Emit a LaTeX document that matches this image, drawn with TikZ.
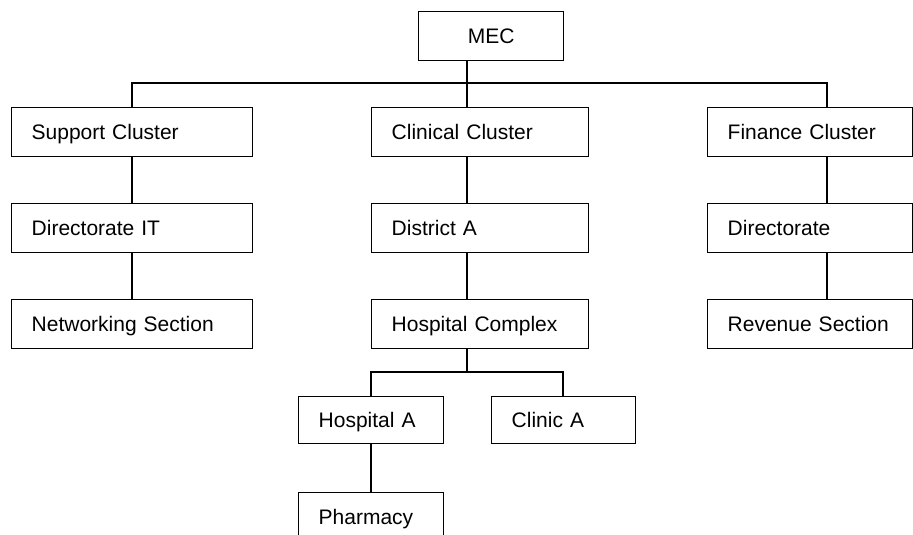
\documentclass[tikz,border=0pt]{standalone}
\usepackage{fontspec}
\setmainfont{Liberation Sans}
\begin{document}
\begin{tikzpicture}[x=1pt,y=-1pt,
  line width=1.4pt,
  box/.style={draw=black, rectangle, anchor=north west, inner xsep=20pt, inner ysep=0pt,
    minimum height=49pt, text height=16pt, text depth=2pt, font=\fontsize{21}{25}\selectfont},
  conn/.style={draw=black, line width=1.4pt}]
\useasboundingbox (0,0) rectangle (913,535);
\clip (0,0) rectangle (913,535);
\fill[white] (0,0) rectangle (913,535);
% boxes
\node[box, inner xsep=0pt, minimum width=145pt] (mec) at (418,11) {MEC};
\node[box, text width=201pt] (sup) at (11,107) {Support Cluster};
\node[box, text width=201pt] (dit) at (11,203) {Directorate IT};
\node[box, text width=201pt] (net) at (11,299) {Networking Section};
\node[box, text width=177pt] (cli) at (371,107) {Clinical Cluster};
\node[box, text width=177pt] (dis) at (371,203) {District A};
\node[box, text width=177pt] (hco) at (371,299) {Hospital Complex};
\node[box, text width=165pt] (fin) at (707,107) {Finance Cluster};
\node[box, text width=165pt] (dir) at (707,203) {Directorate};
\node[box, text width=165pt] (rev) at (707,299) {Revenue Section};
\node[box, text width=105pt, minimum height=47pt] (hosa) at (298,396) {Hospital A};
\node[box, text width=104pt, minimum height=47pt] (clia) at (491,396) {Clinic A};
\node[box, text width=105pt, minimum height=49pt] (pha) at (298,492) {Pharmacy};
% x positions of connectors
\coordinate (xs) at (132,0);
\coordinate (xc) at (467,0);
\coordinate (xf) at (827,0);
\coordinate (xh) at (371,0);
\coordinate (xk) at (563,0);
\coordinate (bus) at (0,83);
\coordinate (bus2) at (0,372);
% top level
\draw[conn] (mec.south -| xc) -- (cli.north -| xc);
\draw[conn] (sup.north -| xs) -- (bus -| xs) -- (bus -| xf) -- (fin.north -| xf);
% support column
\draw[conn] (sup.south -| xs) -- (dit.north -| xs);
\draw[conn] (dit.south -| xs) -- (net.north -| xs);
% clinical column
\draw[conn] (cli.south -| xc) -- (dis.north -| xc);
\draw[conn] (dis.south -| xc) -- (hco.north -| xc);
% finance column
\draw[conn] (fin.south -| xf) -- (dir.north -| xf);
\draw[conn] (dir.south -| xf) -- (rev.north -| xf);
% hospital complex branch
\draw[conn] (hco.south -| xc) -- (bus2 -| xc);
\draw[conn] (hosa.north -| xh) -- (bus2 -| xh) -- (bus2 -| xk) -- (clia.north -| xk);
\draw[conn] (hosa.south -| xh) -- (pha.north -| xh);
\end{tikzpicture}
\end{document}
